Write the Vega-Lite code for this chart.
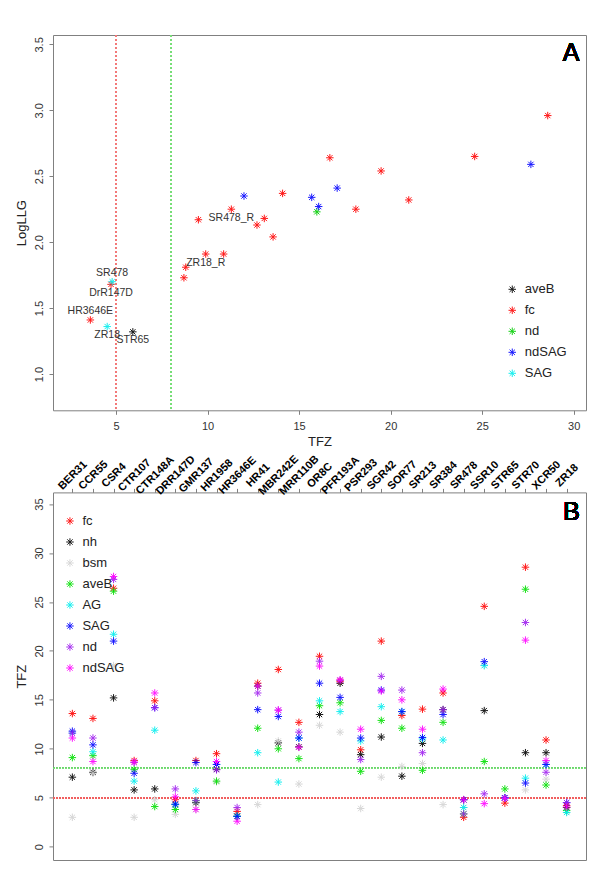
{
  "$schema": "https://vega.github.io/schema/vega-lite/v6.json",
  "padding": {"left": 14, "top": 34, "right": 0, "bottom": 0},
  "bounds": "flush",
  "spacing": 81.4,
  "config": {
    "font": "Liberation Sans",
    "view": {"stroke": "#808080", "strokeWidth": 1},
    "axis": {"grid": false, "domain": false, "tickColor": "#808080", "tickSize": 4, "labelFont": "Liberation Sans", "labelFontSize": 11, "labelColor": "#333333", "titleFont": "Liberation Sans", "titleFontSize": 13, "titleFontWeight": "normal", "titleColor": "#222222", "labelOverlap": false},
    "legend": {"symbolType": "M-1,0L1,0M0,-1L0,1M-0.71,-0.71L0.71,0.71M-0.71,0.71L0.71,-0.71", "symbolSize": 56, "symbolStrokeWidth": 1, "labelFont": "Liberation Sans", "labelFontSize": 13, "labelColor": "#222222", "rowPadding": 7, "padding": 0, "labelOffset": 6}
  },
  "resolve": {"scale": {"color": "independent", "x": "independent", "y": "independent"}, "legend": {"color": "independent"}},
  "datasets": {
    "A": [
      {"TFZ": 28.58, "LogLLG": 2.96, "group": "fc"},
      {"TFZ": 24.59, "LogLLG": 2.65, "group": "fc"},
      {"TFZ": 16.68, "LogLLG": 2.64, "group": "fc"},
      {"TFZ": 19.48, "LogLLG": 2.54, "group": "fc"},
      {"TFZ": 14.10, "LogLLG": 2.37, "group": "fc"},
      {"TFZ": 20.99, "LogLLG": 2.32, "group": "fc"},
      {"TFZ": 18.10, "LogLLG": 2.25, "group": "fc"},
      {"TFZ": 11.30, "LogLLG": 2.25, "group": "fc", "label": "SR478_R"},
      {"TFZ": 9.50, "LogLLG": 2.17, "group": "fc"},
      {"TFZ": 13.10, "LogLLG": 2.18, "group": "fc"},
      {"TFZ": 12.70, "LogLLG": 2.13, "group": "fc"},
      {"TFZ": 13.58, "LogLLG": 2.04, "group": "fc"},
      {"TFZ": 9.90, "LogLLG": 1.91, "group": "fc", "label": "ZR18_R"},
      {"TFZ": 10.88, "LogLLG": 1.91, "group": "fc"},
      {"TFZ": 8.81, "LogLLG": 1.81, "group": "fc"},
      {"TFZ": 8.71, "LogLLG": 1.73, "group": "fc"},
      {"TFZ": 4.73, "LogLLG": 1.68, "group": "fc", "label": "DrR147D"},
      {"TFZ": 3.60, "LogLLG": 1.41, "group": "fc", "label": "HR3646E"},
      {"TFZ": 15.97, "LogLLG": 2.23, "group": "nd"},
      {"TFZ": 27.66, "LogLLG": 2.59, "group": "ndSAG"},
      {"TFZ": 11.99, "LogLLG": 2.35, "group": "ndSAG"},
      {"TFZ": 15.69, "LogLLG": 2.34, "group": "ndSAG"},
      {"TFZ": 17.08, "LogLLG": 2.41, "group": "ndSAG"},
      {"TFZ": 16.07, "LogLLG": 2.27, "group": "ndSAG"},
      {"TFZ": 4.79, "LogLLG": 1.70, "group": "SAG", "label": "SR478"},
      {"TFZ": 4.52, "LogLLG": 1.36, "group": "SAG", "label": "ZR18"},
      {"TFZ": 5.92, "LogLLG": 1.32, "group": "aveB", "label": "STR65"}
    ],
    "B": [
      {"marker": "BER31", "method": "fc", "TFZ": 13.6}, {"marker": "BER31", "method": "nh", "TFZ": 7.1}, {"marker": "BER31", "method": "bsm", "TFZ": 3.0}, {"marker": "BER31", "method": "aveB", "TFZ": 9.1}, {"marker": "BER31", "method": "AG", "TFZ": 11.6}, {"marker": "BER31", "method": "SAG", "TFZ": 11.8}, {"marker": "BER31", "method": "nd", "TFZ": 11.6}, {"marker": "BER31", "method": "ndSAG", "TFZ": 11.1},
      {"marker": "CCR55", "method": "fc", "TFZ": 13.1}, {"marker": "CCR55", "method": "nh", "TFZ": 7.6}, {"marker": "CCR55", "method": "bsm", "TFZ": 7.5}, {"marker": "CCR55", "method": "aveB", "TFZ": 9.3}, {"marker": "CCR55", "method": "AG", "TFZ": 9.7}, {"marker": "CCR55", "method": "SAG", "TFZ": 10.4}, {"marker": "CCR55", "method": "nd", "TFZ": 11.1}, {"marker": "CCR55", "method": "ndSAG", "TFZ": 8.7},
      {"marker": "CSR4", "method": "fc", "TFZ": 26.4}, {"marker": "CSR4", "method": "nh", "TFZ": 15.2}, {"marker": "CSR4", "method": "bsm", "TFZ": 18.5}, {"marker": "CSR4", "method": "aveB", "TFZ": 26.1}, {"marker": "CSR4", "method": "AG", "TFZ": 21.7}, {"marker": "CSR4", "method": "SAG", "TFZ": 21.0}, {"marker": "CSR4", "method": "nd", "TFZ": 27.3}, {"marker": "CSR4", "method": "ndSAG", "TFZ": 27.6},
      {"marker": "CTR107", "method": "fc", "TFZ": 8.8}, {"marker": "CTR107", "method": "nh", "TFZ": 5.8}, {"marker": "CTR107", "method": "bsm", "TFZ": 3.0}, {"marker": "CTR107", "method": "aveB", "TFZ": 7.9}, {"marker": "CTR107", "method": "AG", "TFZ": 6.7}, {"marker": "CTR107", "method": "SAG", "TFZ": 7.5}, {"marker": "CTR107", "method": "nd", "TFZ": 8.6}, {"marker": "CTR107", "method": "ndSAG", "TFZ": 8.65},
      {"marker": "CTR148A", "method": "fc", "TFZ": 14.9}, {"marker": "CTR148A", "method": "nh", "TFZ": 5.9}, {"marker": "CTR148A", "method": "bsm", "TFZ": 4.8}, {"marker": "CTR148A", "method": "aveB", "TFZ": 4.1}, {"marker": "CTR148A", "method": "AG", "TFZ": 11.9}, {"marker": "CTR148A", "method": "SAG", "TFZ": 14.2}, {"marker": "CTR148A", "method": "nd", "TFZ": 14.2}, {"marker": "CTR148A", "method": "ndSAG", "TFZ": 15.7},
      {"marker": "DRR147D", "method": "fc", "TFZ": 4.8}, {"marker": "DRR147D", "method": "nh", "TFZ": 4.3}, {"marker": "DRR147D", "method": "bsm", "TFZ": 3.3}, {"marker": "DRR147D", "method": "aveB", "TFZ": 3.8}, {"marker": "DRR147D", "method": "AG", "TFZ": 4.3}, {"marker": "DRR147D", "method": "SAG", "TFZ": 4.35}, {"marker": "DRR147D", "method": "nd", "TFZ": 5.9}, {"marker": "DRR147D", "method": "ndSAG", "TFZ": 5.1},
      {"marker": "GMR137", "method": "fc", "TFZ": 8.8}, {"marker": "GMR137", "method": "nh", "TFZ": 4.5}, {"marker": "GMR137", "method": "bsm", "TFZ": 3.8}, {"marker": "GMR137", "method": "aveB", "TFZ": 4.7}, {"marker": "GMR137", "method": "AG", "TFZ": 5.7}, {"marker": "GMR137", "method": "SAG", "TFZ": 8.6}, {"marker": "GMR137", "method": "nd", "TFZ": 4.7}, {"marker": "GMR137", "method": "ndSAG", "TFZ": 3.8},
      {"marker": "HR1958", "method": "fc", "TFZ": 9.5}, {"marker": "HR1958", "method": "nh", "TFZ": 7.9}, {"marker": "HR1958", "method": "bsm", "TFZ": 6.6}, {"marker": "HR1958", "method": "aveB", "TFZ": 6.7}, {"marker": "HR1958", "method": "AG", "TFZ": 8.4}, {"marker": "HR1958", "method": "SAG", "TFZ": 8.4}, {"marker": "HR1958", "method": "nd", "TFZ": 7.85}, {"marker": "HR1958", "method": "ndSAG", "TFZ": 8.7},
      {"marker": "HR3646E", "method": "fc", "TFZ": 3.6}, {"marker": "HR3646E", "method": "nh", "TFZ": 3.1}, {"marker": "HR3646E", "method": "bsm", "TFZ": 3.1}, {"marker": "HR3646E", "method": "aveB", "TFZ": 3.1}, {"marker": "HR3646E", "method": "AG", "TFZ": 3.1}, {"marker": "HR3646E", "method": "SAG", "TFZ": 3.1}, {"marker": "HR3646E", "method": "nd", "TFZ": 4.0}, {"marker": "HR3646E", "method": "ndSAG", "TFZ": 2.6},
      {"marker": "HR41", "method": "fc", "TFZ": 16.7}, {"marker": "HR41", "method": "nh", "TFZ": 16.4}, {"marker": "HR41", "method": "bsm", "TFZ": 4.3}, {"marker": "HR41", "method": "aveB", "TFZ": 12.1}, {"marker": "HR41", "method": "AG", "TFZ": 9.6}, {"marker": "HR41", "method": "SAG", "TFZ": 14.0}, {"marker": "HR41", "method": "nd", "TFZ": 15.7}, {"marker": "HR41", "method": "ndSAG", "TFZ": 16.4},
      {"marker": "MBR242E", "method": "fc", "TFZ": 18.1}, {"marker": "MBR242E", "method": "nh", "TFZ": 10.6}, {"marker": "MBR242E", "method": "bsm", "TFZ": 10.8}, {"marker": "MBR242E", "method": "aveB", "TFZ": 10.0}, {"marker": "MBR242E", "method": "AG", "TFZ": 6.6}, {"marker": "MBR242E", "method": "SAG", "TFZ": 13.3}, {"marker": "MBR242E", "method": "nd", "TFZ": 13.95}, {"marker": "MBR242E", "method": "ndSAG", "TFZ": 13.95},
      {"marker": "MRR110B", "method": "fc", "TFZ": 12.7}, {"marker": "MRR110B", "method": "nh", "TFZ": 10.2}, {"marker": "MRR110B", "method": "bsm", "TFZ": 6.4}, {"marker": "MRR110B", "method": "aveB", "TFZ": 9.0}, {"marker": "MRR110B", "method": "AG", "TFZ": 11.1}, {"marker": "MRR110B", "method": "SAG", "TFZ": 11.1}, {"marker": "MRR110B", "method": "nd", "TFZ": 11.7}, {"marker": "MRR110B", "method": "ndSAG", "TFZ": 10.15},
      {"marker": "OR8C", "method": "fc", "TFZ": 19.45}, {"marker": "OR8C", "method": "nh", "TFZ": 13.5}, {"marker": "OR8C", "method": "bsm", "TFZ": 12.4}, {"marker": "OR8C", "method": "aveB", "TFZ": 14.4}, {"marker": "OR8C", "method": "AG", "TFZ": 14.9}, {"marker": "OR8C", "method": "SAG", "TFZ": 16.7}, {"marker": "OR8C", "method": "nd", "TFZ": 18.95}, {"marker": "OR8C", "method": "ndSAG", "TFZ": 18.45},
      {"marker": "PFR193A", "method": "fc", "TFZ": 16.9}, {"marker": "PFR193A", "method": "nh", "TFZ": 16.7}, {"marker": "PFR193A", "method": "bsm", "TFZ": 11.7}, {"marker": "PFR193A", "method": "aveB", "TFZ": 14.7}, {"marker": "PFR193A", "method": "AG", "TFZ": 13.8}, {"marker": "PFR193A", "method": "SAG", "TFZ": 15.25}, {"marker": "PFR193A", "method": "nd", "TFZ": 17.0}, {"marker": "PFR193A", "method": "ndSAG", "TFZ": 17.05},
      {"marker": "PSR293", "method": "fc", "TFZ": 9.9}, {"marker": "PSR293", "method": "nh", "TFZ": 9.4}, {"marker": "PSR293", "method": "bsm", "TFZ": 3.9}, {"marker": "PSR293", "method": "aveB", "TFZ": 7.7}, {"marker": "PSR293", "method": "AG", "TFZ": 10.8}, {"marker": "PSR293", "method": "SAG", "TFZ": 11.1}, {"marker": "PSR293", "method": "nd", "TFZ": 8.9}, {"marker": "PSR293", "method": "ndSAG", "TFZ": 12.0},
      {"marker": "SGR42", "method": "fc", "TFZ": 21.0}, {"marker": "SGR42", "method": "nh", "TFZ": 11.2}, {"marker": "SGR42", "method": "bsm", "TFZ": 7.1}, {"marker": "SGR42", "method": "aveB", "TFZ": 12.9}, {"marker": "SGR42", "method": "AG", "TFZ": 14.3}, {"marker": "SGR42", "method": "SAG", "TFZ": 16.0}, {"marker": "SGR42", "method": "nd", "TFZ": 17.4}, {"marker": "SGR42", "method": "ndSAG", "TFZ": 15.9},
      {"marker": "SOR77", "method": "fc", "TFZ": 13.4}, {"marker": "SOR77", "method": "nh", "TFZ": 7.2}, {"marker": "SOR77", "method": "bsm", "TFZ": 8.2}, {"marker": "SOR77", "method": "aveB", "TFZ": 12.1}, {"marker": "SOR77", "method": "AG", "TFZ": 13.8}, {"marker": "SOR77", "method": "SAG", "TFZ": 13.8}, {"marker": "SOR77", "method": "nd", "TFZ": 16.0}, {"marker": "SOR77", "method": "ndSAG", "TFZ": 15.0},
      {"marker": "SR213", "method": "fc", "TFZ": 14.05}, {"marker": "SR213", "method": "nh", "TFZ": 10.55}, {"marker": "SR213", "method": "bsm", "TFZ": 8.5}, {"marker": "SR213", "method": "aveB", "TFZ": 7.8}, {"marker": "SR213", "method": "AG", "TFZ": 11.0}, {"marker": "SR213", "method": "SAG", "TFZ": 11.15}, {"marker": "SR213", "method": "nd", "TFZ": 9.6}, {"marker": "SR213", "method": "ndSAG", "TFZ": 12.0},
      {"marker": "SR384", "method": "fc", "TFZ": 15.7}, {"marker": "SR384", "method": "nh", "TFZ": 14.0}, {"marker": "SR384", "method": "bsm", "TFZ": 4.3}, {"marker": "SR384", "method": "aveB", "TFZ": 12.7}, {"marker": "SR384", "method": "AG", "TFZ": 10.9}, {"marker": "SR384", "method": "SAG", "TFZ": 13.5}, {"marker": "SR384", "method": "nd", "TFZ": 14.0}, {"marker": "SR384", "method": "ndSAG", "TFZ": 16.1},
      {"marker": "SR478", "method": "fc", "TFZ": 3.0}, {"marker": "SR478", "method": "nh", "TFZ": 4.8}, {"marker": "SR478", "method": "bsm", "TFZ": 4.0}, {"marker": "SR478", "method": "aveB", "TFZ": 3.35}, {"marker": "SR478", "method": "AG", "TFZ": 4.0}, {"marker": "SR478", "method": "SAG", "TFZ": 4.8}, {"marker": "SR478", "method": "nd", "TFZ": 3.35}, {"marker": "SR478", "method": "ndSAG", "TFZ": 4.8},
      {"marker": "SSR10", "method": "fc", "TFZ": 24.55}, {"marker": "SSR10", "method": "nh", "TFZ": 13.9}, {"marker": "SSR10", "method": "bsm", "TFZ": 18.5}, {"marker": "SSR10", "method": "aveB", "TFZ": 8.7}, {"marker": "SSR10", "method": "AG", "TFZ": 18.5}, {"marker": "SSR10", "method": "SAG", "TFZ": 18.9}, {"marker": "SSR10", "method": "nd", "TFZ": 5.4}, {"marker": "SSR10", "method": "ndSAG", "TFZ": 4.4},
      {"marker": "STR65", "method": "fc", "TFZ": 4.45}, {"marker": "STR65", "method": "nh", "TFZ": 5.0}, {"marker": "STR65", "method": "bsm", "TFZ": 5.0}, {"marker": "STR65", "method": "aveB", "TFZ": 5.9}, {"marker": "STR65", "method": "AG", "TFZ": 5.0}, {"marker": "STR65", "method": "SAG", "TFZ": 5.0}, {"marker": "STR65", "method": "nd", "TFZ": 4.95}, {"marker": "STR65", "method": "ndSAG", "TFZ": 4.95},
      {"marker": "STR70", "method": "fc", "TFZ": 28.55}, {"marker": "STR70", "method": "nh", "TFZ": 9.6}, {"marker": "STR70", "method": "bsm", "TFZ": 5.8}, {"marker": "STR70", "method": "aveB", "TFZ": 26.3}, {"marker": "STR70", "method": "AG", "TFZ": 7.0}, {"marker": "STR70", "method": "SAG", "TFZ": 6.5}, {"marker": "STR70", "method": "nd", "TFZ": 22.9}, {"marker": "STR70", "method": "ndSAG", "TFZ": 21.1},
      {"marker": "XCR50", "method": "fc", "TFZ": 10.9}, {"marker": "XCR50", "method": "nh", "TFZ": 9.6}, {"marker": "XCR50", "method": "bsm", "TFZ": 6.9}, {"marker": "XCR50", "method": "aveB", "TFZ": 6.3}, {"marker": "XCR50", "method": "AG", "TFZ": 8.4}, {"marker": "XCR50", "method": "SAG", "TFZ": 8.4}, {"marker": "XCR50", "method": "nd", "TFZ": 7.6}, {"marker": "XCR50", "method": "ndSAG", "TFZ": 8.8},
      {"marker": "ZR18", "method": "fc", "TFZ": 4.2}, {"marker": "ZR18", "method": "nh", "TFZ": 4.0}, {"marker": "ZR18", "method": "bsm", "TFZ": 3.5}, {"marker": "ZR18", "method": "aveB", "TFZ": 3.7}, {"marker": "ZR18", "method": "AG", "TFZ": 3.5}, {"marker": "ZR18", "method": "SAG", "TFZ": 4.5}, {"marker": "ZR18", "method": "nd", "TFZ": 4.5}, {"marker": "ZR18", "method": "ndSAG", "TFZ": 4.05}
    ]
  },
  "vconcat": [
    {
      "width": 533,
      "height": 375.3,
      "data": {"name": "A"},
      "layer": [
        {
          "mark": {"type": "rule", "color": "#F07878", "strokeDash": [2, 2], "strokeWidth": 0.7},
          "encoding": {"x": {"datum": 5, "type": "quantitative"}}
        },
        {
          "mark": {"type": "rule", "color": "#78E078", "strokeDash": [2, 2], "strokeWidth": 0.7},
          "encoding": {"x": {"datum": 8, "type": "quantitative"}}
        },
        {
          "mark": {"type": "point", "shape": "M-1,0L1,0M0,-1L0,1M-0.71,-0.71L0.71,0.71M-0.71,0.71L0.71,-0.71", "filled": false, "size": 56, "strokeWidth": 1, "opacity": 0.9},
          "encoding": {
            "x": {"field": "TFZ", "type": "quantitative", "scale": {"domain": [1.56, 30.67], "nice": false, "zero": false},
              "axis": {"values": [5, 10, 15, 20, 25, 30], "labelPadding": 6, "titlePadding": 4, "title": "TFZ", "labelFlush": false}},
            "y": {"field": "LogLLG", "type": "quantitative", "scale": {"domain": [0.725, 3.571], "nice": false, "zero": false},
              "axis": {"values": [1, 1.5, 2, 2.5, 3, 3.5], "format": ".1f", "labelAngle": 270, "labelAlign": "center", "labelBaseline": "alphabetic", "labelPadding": 6.3, "labelFlush": false, "title": "LogLLG", "titleX": -27.8, "titleY": 187.65, "titleAngle": 270, "titleAlign": "center", "titleBaseline": "alphabetic"}},
            "color": {"field": "group", "type": "nominal",
              "scale": {"domain": ["aveB", "fc", "nd", "ndSAG", "SAG"], "range": ["#000000", "#FF0000", "#00CD00", "#0000FF", "#00EEEE"]},
              "legend": {"orient": "none", "legendX": 452.75, "legendY": 247.8, "title": null}}
          }
        },
        {
          "transform": [{"filter": {"field": "label", "oneOf": ["SR478", "HR3646E"]}}],
          "mark": {"type": "text", "fontSize": 10.5, "color": "#333333", "align": "center", "baseline": "middle", "dy": -8.5},
          "encoding": {"x": {"field": "TFZ", "type": "quantitative"}, "y": {"field": "LogLLG", "type": "quantitative"}, "text": {"field": "label"}}
        },
        {
          "transform": [{"filter": {"field": "label", "oneOf": ["DrR147D", "ZR18", "STR65", "SR478_R", "ZR18_R"]}}],
          "mark": {"type": "text", "fontSize": 10.5, "color": "#333333", "align": "center", "baseline": "middle", "dy": 8.5},
          "encoding": {"x": {"field": "TFZ", "type": "quantitative"}, "y": {"field": "LogLLG", "type": "quantitative"}, "text": {"field": "label"}}
        },
        {
          "mark": {"type": "text", "fontSize": 25, "fontWeight": "normal", "font": "Liberation Sans", "color": "#000000", "align": "center", "baseline": "alphabetic"},
          "encoding": {"x": {"datum": 29.85, "type": "quantitative"}, "y": {"datum": 3.374, "type": "quantitative"}, "text": {"value": "A"}}
        }
      ]
    },
    {
      "width": 533,
      "height": 367.6,
      "data": {"name": "B"},
      "layer": [
        {
          "mark": {"type": "rule", "color": "#78E078", "strokeDash": [1.5, 1.5], "strokeWidth": 0.7},
          "encoding": {"y": {"datum": 8, "type": "quantitative"}}
        },
        {
          "mark": {"type": "rule", "color": "#F06060", "strokeDash": [1.5, 1.5], "strokeWidth": 0.7},
          "encoding": {"y": {"datum": 5, "type": "quantitative"}}
        },
        {
          "mark": {"type": "point", "shape": "M-1,0L1,0M0,-1L0,1M-0.71,-0.71L0.71,0.71M-0.71,0.71L0.71,-0.71", "filled": false, "size": 56, "strokeWidth": 1, "opacity": 0.9},
          "encoding": {
            "x": {"field": "marker", "type": "nominal",
              "scale": {"type": "point", "padding": 0.94, "domain": ["BER31", "CCR55", "CSR4", "CTR107", "CTR148A", "DRR147D", "GMR137", "HR1958", "HR3646E", "HR41", "MBR242E", "MRR110B", "OR8C", "PFR193A", "PSR293", "SGR42", "SOR77", "SR213", "SR384", "SR478", "SSR10", "STR65", "STR70", "XCR50", "ZR18"]},
              "axis": {"orient": "top", "title": null, "labelAngle": -45, "labelAlign": "center", "labelBaseline": "middle", "labelPadding": 13.4, "labelFontWeight": "bold", "labelFontSize": 11, "labelColor": "#000000", "labelBound": false}},
            "y": {"field": "TFZ", "type": "quantitative", "scale": {"domain": [-1.36, 36.19], "nice": false, "zero": false},
              "axis": {"values": [0, 5, 10, 15, 20, 25, 30, 35], "labelAngle": 270, "labelAlign": "center", "labelBaseline": "alphabetic", "labelPadding": 6.3, "labelFlush": false, "title": "TFZ", "titleX": -27.8, "titleY": 183.8, "titleAngle": 270, "titleAlign": "center", "titleBaseline": "alphabetic"}},
            "color": {"field": "method", "type": "nominal",
              "scale": {"domain": ["fc", "nh", "bsm", "aveB", "AG", "SAG", "nd", "ndSAG"], "range": ["#FF0000", "#000000", "#D3D3D3", "#00E000", "#00EEEE", "#0000FF", "#A020F0", "#FF00FF"]},
              "legend": {"orient": "none", "legendX": 10.45, "legendY": 22.1, "title": null}}
          }
        },
        {
          "mark": {"type": "text", "fontSize": 25, "fontWeight": "normal", "font": "Liberation Sans", "color": "#000000", "align": "center", "baseline": "alphabetic", "dx": 5},
          "encoding": {"x": {"datum": "ZR18", "type": "nominal"}, "y": {"datum": 33.37, "type": "quantitative"}, "text": {"value": "B"}}
        }
      ]
    }
  ]
}
